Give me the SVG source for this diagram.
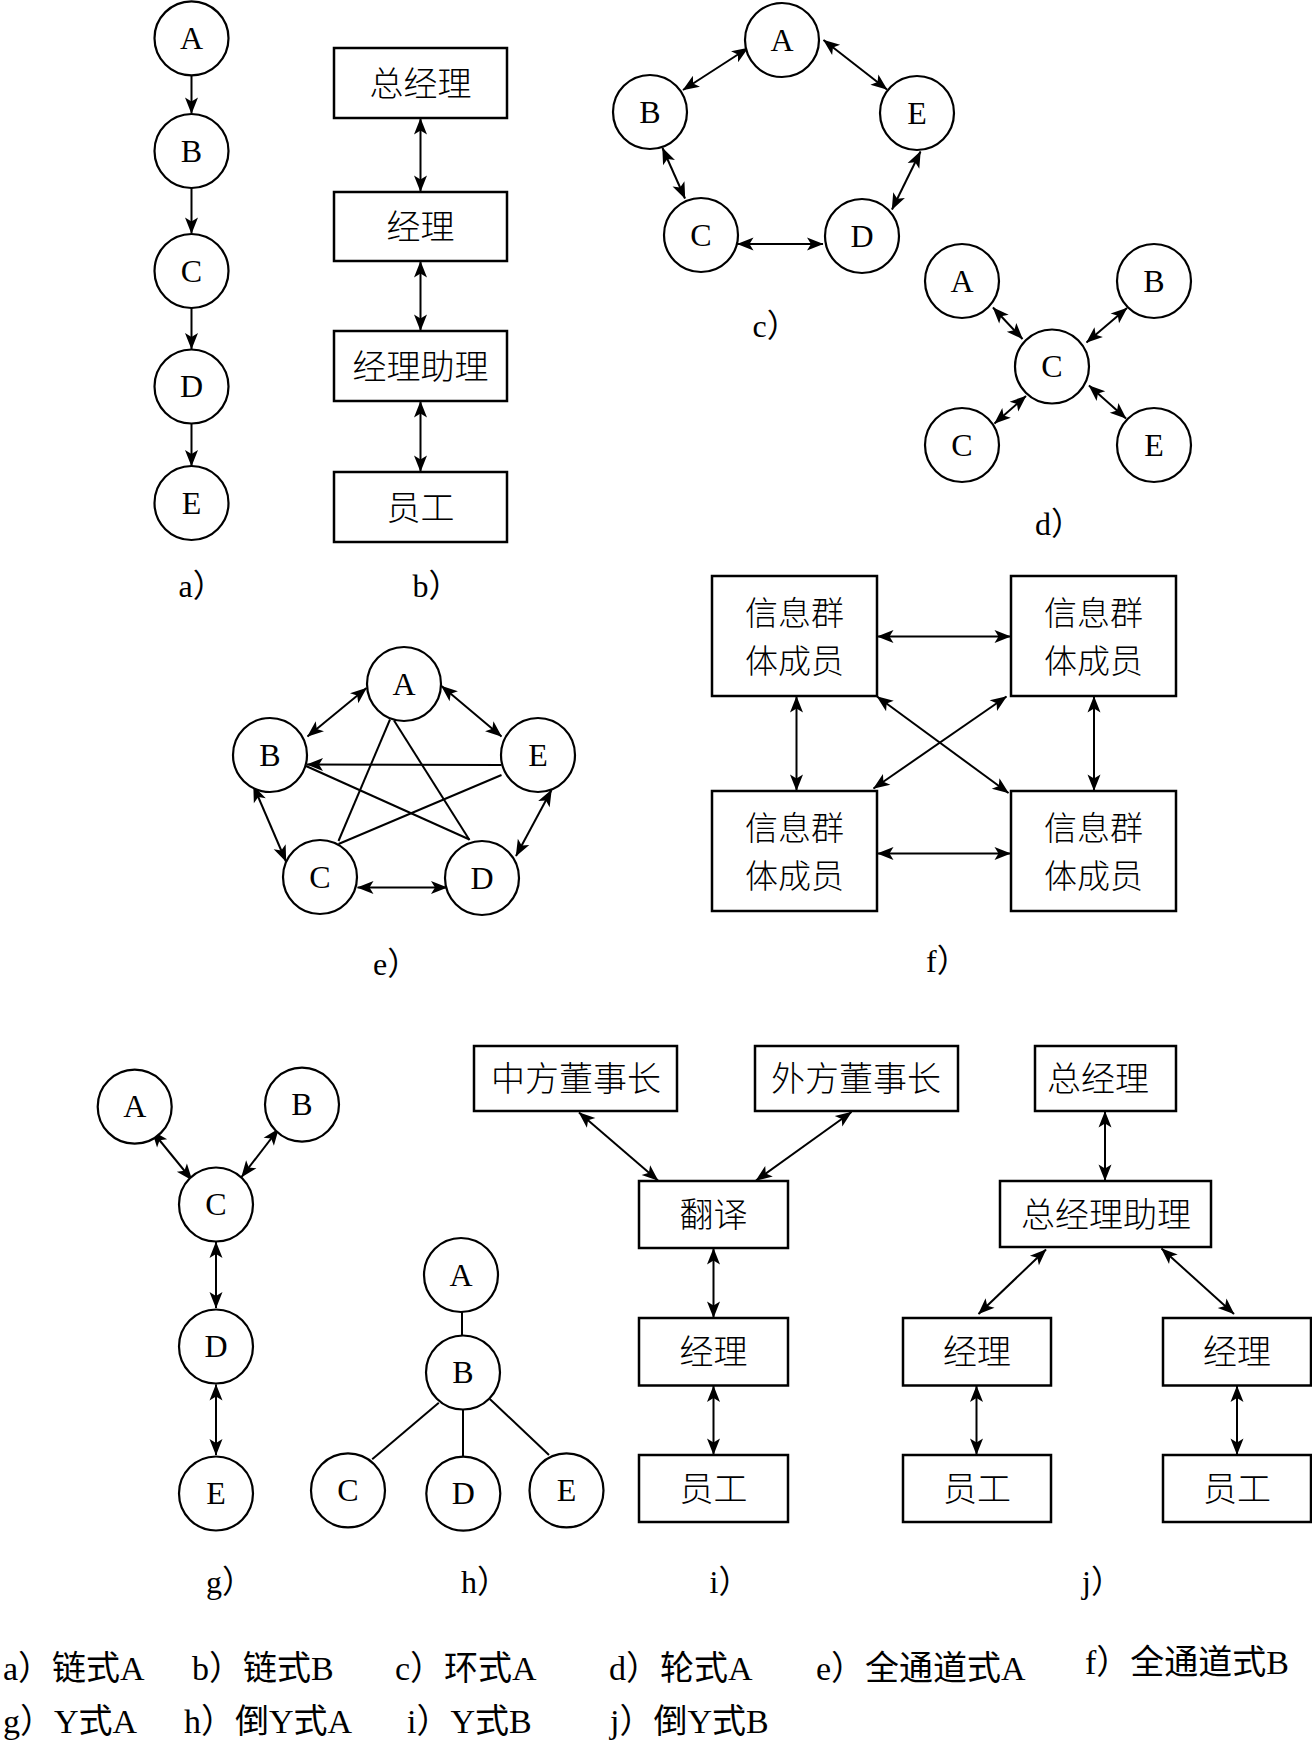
<svg xmlns="http://www.w3.org/2000/svg" width="1312" height="1742" viewBox="0 0 1312 1742">
<style>
.nd{fill:#fff;stroke:#000;stroke-width:2.2}
.bx{fill:#fff;stroke:#000;stroke-width:2.5}
.ln{fill:none;stroke:#000;stroke-width:2}
.ar{fill:none;stroke:#000;stroke-width:2;marker-end:url(#ah)}
.dr{fill:none;stroke:#000;stroke-width:2;marker-start:url(#ah);marker-end:url(#ah)}
.lt{font-family:"Liberation Serif","Times New Roman",serif;font-size:32px;text-anchor:middle;fill:#000}
.cn{font-family:"Noto Sans CJK SC","Noto Sans CJK TC",sans-serif;font-size:34px;font-weight:300;text-anchor:middle;fill:#000}
.cf{font-family:"Noto Sans CJK SC","Noto Sans CJK TC",sans-serif;font-size:33px;font-weight:300;text-anchor:middle;fill:#000}
.lb{font-family:"Liberation Serif","Noto Sans CJK SC",serif;font-size:32px;fill:#000}
.cap{font-family:"Liberation Serif","Noto Sans CJK SC",serif;font-size:34px;fill:#000}
</style>
<defs>
<marker id="ah" viewBox="-17 -7 18 14" refX="0" refY="0" markerWidth="18" markerHeight="14" markerUnits="userSpaceOnUse" orient="auto-start-reverse">
<path d="M0.5,0 L-16,-6.5 L-12,0 L-16,6.5 Z" fill="#000"/>
</marker>
</defs>
<rect width="1312" height="1742" fill="#fff"/>

<!-- connectors -->
<g id="connectors">
<!-- a -->
<line class="ar" x1="191.5" y1="75.5" x2="191.5" y2="113.5"/>
<line class="ar" x1="191.5" y1="188" x2="191.5" y2="233.5"/>
<line class="ar" x1="191.5" y1="308" x2="191.5" y2="349"/>
<line class="ar" x1="191.5" y1="423.5" x2="191.5" y2="466"/>
<!-- b -->
<line class="dr" x1="420.5" y1="118.5" x2="420.5" y2="191.5"/>
<line class="dr" x1="420.5" y1="261.5" x2="420.5" y2="330.5"/>
<line class="dr" x1="420.5" y1="401.5" x2="420.5" y2="471.5"/>
<!-- c -->
<line class="dr" x1="748" y1="48" x2="683" y2="90"/>
<line class="dr" x1="823.5" y1="40" x2="887" y2="89.5"/>
<line class="dr" x1="662.5" y1="148" x2="685" y2="198.5"/>
<line class="dr" x1="920.5" y1="151.5" x2="892" y2="209.5"/>
<line class="dr" x1="737.5" y1="244" x2="823" y2="244"/>
<!-- d -->
<line class="dr" x1="993" y1="307.5" x2="1022.5" y2="339"/>
<line class="dr" x1="1127" y1="308" x2="1086.5" y2="342.5"/>
<line class="dr" x1="994.5" y1="423.5" x2="1026" y2="396"/>
<line class="dr" x1="1126" y1="418.5" x2="1089" y2="385.5"/>
<!-- e -->
<line class="dr" x1="366.5" y1="688" x2="307.5" y2="736.5"/>
<line class="dr" x1="441.5" y1="686" x2="501.5" y2="736.5"/>
<line class="dr" x1="253.5" y1="786" x2="286" y2="861.5"/>
<line class="dr" x1="551.5" y1="790" x2="516" y2="856"/>
<line class="dr" x1="357.5" y1="887.5" x2="447" y2="887.5"/>
<line class="ar" x1="501.5" y1="765" x2="307" y2="764.5"/>
<line class="ln" x1="306" y1="766" x2="469.5" y2="839.5"/>
<line class="ln" x1="390" y1="719.5" x2="338.5" y2="841"/>
<line class="ln" x1="394" y1="720.5" x2="469.5" y2="840"/>
<line class="ln" x1="501.5" y1="775" x2="338.5" y2="844"/>
<!-- f -->
<line class="dr" x1="877.5" y1="636.5" x2="1010.5" y2="636.5"/>
<line class="dr" x1="877.5" y1="853.5" x2="1010.5" y2="853.5"/>
<line class="dr" x1="796.5" y1="696.5" x2="796.5" y2="790.5"/>
<line class="dr" x1="1094" y1="696.5" x2="1094" y2="790.5"/>
<line class="dr" x1="877" y1="696.5" x2="1008.5" y2="793"/>
<line class="dr" x1="1006.5" y1="696.5" x2="873.5" y2="788.5"/>
<!-- g -->
<line class="dr" x1="152" y1="1131" x2="192" y2="1180"/>
<line class="dr" x1="278.5" y1="1129" x2="241.5" y2="1177"/>
<line class="dr" x1="216" y1="1242" x2="216" y2="1308"/>
<line class="dr" x1="216" y1="1384.5" x2="216" y2="1455"/>
<!-- h -->
<line class="ln" x1="462" y1="1312" x2="462" y2="1335.5"/>
<line class="ln" x1="438.8" y1="1402.7" x2="372.2" y2="1459.3"/>
<line class="ln" x1="463" y1="1410" x2="463" y2="1456.5"/>
<line class="ln" x1="489.8" y1="1398.9" x2="549" y2="1455"/>
<!-- i -->
<line class="dr" x1="579" y1="1112.5" x2="658" y2="1180.5"/>
<line class="dr" x1="851.5" y1="1112" x2="756" y2="1180.5"/>
<line class="dr" x1="713.5" y1="1248.5" x2="713.5" y2="1317.5"/>
<line class="dr" x1="713.5" y1="1386" x2="713.5" y2="1454.5"/>
<!-- j -->
<line class="dr" x1="1105" y1="1111.5" x2="1105" y2="1180.5"/>
<line class="dr" x1="1046" y1="1249.5" x2="978.5" y2="1314"/>
<line class="dr" x1="1161.5" y1="1248.5" x2="1234" y2="1314"/>
<line class="dr" x1="976.5" y1="1386" x2="976.5" y2="1454.5"/>
<line class="dr" x1="1237" y1="1386" x2="1237" y2="1454.5"/>
</g>

<!-- panel a -->
<g id="a-A"><circle class="nd" cx="191.5" cy="38.3" r="37"/><text class="lt" x="191.5" y="49">A</text></g>
<g id="a-B"><circle class="nd" cx="191.5" cy="151" r="37"/><text class="lt" x="191.5" y="161.7">B</text></g>
<g id="a-C"><circle class="nd" cx="191.5" cy="271" r="37"/><text class="lt" x="191.5" y="281.7">C</text></g>
<g id="a-D"><circle class="nd" cx="191.5" cy="386.5" r="37"/><text class="lt" x="191.5" y="397.2">D</text></g>
<g id="a-E"><circle class="nd" cx="191.5" cy="503" r="37"/><text class="lt" x="191.5" y="513.7">E</text></g>

<!-- panel b -->
<g id="b-1"><rect class="bx" x="334" y="48" width="173" height="70"/><text class="cn" x="420.5" y="95.5">总经理</text></g>
<g id="b-2"><rect class="bx" x="334" y="192" width="173" height="69"/><text class="cn" x="420.5" y="239">经理</text></g>
<g id="b-3"><rect class="bx" x="334" y="331" width="173" height="70"/><text class="cn" x="420.5" y="378.5">经理助理</text></g>
<g id="b-4"><rect class="bx" x="334" y="472" width="173" height="70"/><text class="cn" x="420.5" y="519.5">员工</text></g>

<!-- panel c -->
<g id="c-A"><circle class="nd" cx="782" cy="40" r="37"/><text class="lt" x="782" y="50.7">A</text></g>
<g id="c-B"><circle class="nd" cx="650" cy="112" r="37"/><text class="lt" x="650" y="122.7">B</text></g>
<g id="c-E"><circle class="nd" cx="917" cy="113" r="37"/><text class="lt" x="917" y="123.7">E</text></g>
<g id="c-C"><circle class="nd" cx="701" cy="235" r="37"/><text class="lt" x="701" y="245.7">C</text></g>
<g id="c-D"><circle class="nd" cx="862" cy="236" r="37"/><text class="lt" x="862" y="246.7">D</text></g>

<!-- panel d -->
<g id="d-A"><circle class="nd" cx="962" cy="281" r="37"/><text class="lt" x="962" y="291.7">A</text></g>
<g id="d-B"><circle class="nd" cx="1154" cy="281" r="37"/><text class="lt" x="1154" y="291.7">B</text></g>
<g id="d-C"><circle class="nd" cx="1052" cy="366.5" r="37"/><text class="lt" x="1052" y="377.2">C</text></g>
<g id="d-C2"><circle class="nd" cx="962" cy="445" r="37"/><text class="lt" x="962" y="455.7">C</text></g>
<g id="d-E"><circle class="nd" cx="1154" cy="445" r="37"/><text class="lt" x="1154" y="455.7">E</text></g>

<!-- panel e -->
<g id="e-A"><circle class="nd" cx="404" cy="684" r="37"/><text class="lt" x="404" y="694.7">A</text></g>
<g id="e-B"><circle class="nd" cx="270" cy="755" r="37"/><text class="lt" x="270" y="765.7">B</text></g>
<g id="e-E"><circle class="nd" cx="538" cy="755" r="37"/><text class="lt" x="538" y="765.7">E</text></g>
<g id="e-C"><circle class="nd" cx="320" cy="877" r="37"/><text class="lt" x="320" y="887.7">C</text></g>
<g id="e-D"><circle class="nd" cx="482" cy="878" r="37"/><text class="lt" x="482" y="888.7">D</text></g>

<!-- panel f -->
<g id="f-TL"><rect class="bx" x="712" y="576" width="165" height="120"/><text class="cf"><tspan x="794.5" y="624.5">信息群</tspan><tspan x="794.5" y="672.5">体成员</tspan></text></g>
<g id="f-TR"><rect class="bx" x="1011" y="576" width="165" height="120"/><text class="cf"><tspan x="1093.5" y="624.5">信息群</tspan><tspan x="1093.5" y="672.5">体成员</tspan></text></g>
<g id="f-BL"><rect class="bx" x="712" y="791" width="165" height="120"/><text class="cf"><tspan x="794.5" y="839.5">信息群</tspan><tspan x="794.5" y="887.5">体成员</tspan></text></g>
<g id="f-BR"><rect class="bx" x="1011" y="791" width="165" height="120"/><text class="cf"><tspan x="1093.5" y="839.5">信息群</tspan><tspan x="1093.5" y="887.5">体成员</tspan></text></g>

<!-- panel g -->
<g id="g-A"><circle class="nd" cx="134.7" cy="1106.7" r="37"/><text class="lt" x="134.7" y="1117.4">A</text></g>
<g id="g-B"><circle class="nd" cx="302" cy="1104.6" r="37"/><text class="lt" x="302" y="1115.3">B</text></g>
<g id="g-C"><circle class="nd" cx="216" cy="1204.5" r="37"/><text class="lt" x="216" y="1215.2">C</text></g>
<g id="g-D"><circle class="nd" cx="216" cy="1346.5" r="37"/><text class="lt" x="216" y="1357.2">D</text></g>
<g id="g-E"><circle class="nd" cx="216" cy="1493.5" r="37"/><text class="lt" x="216" y="1504.2">E</text></g>

<!-- panel h -->
<g id="h-A"><circle class="nd" cx="461" cy="1275" r="37"/><text class="lt" x="461" y="1285.7">A</text></g>
<g id="h-B"><circle class="nd" cx="463" cy="1372.5" r="37"/><text class="lt" x="463" y="1383.2">B</text></g>
<g id="h-C"><circle class="nd" cx="348" cy="1490.4" r="37"/><text class="lt" x="348" y="1501.1">C</text></g>
<g id="h-D"><circle class="nd" cx="463.3" cy="1493.6" r="37"/><text class="lt" x="463.3" y="1504.3">D</text></g>
<g id="h-E"><circle class="nd" cx="566.5" cy="1490.4" r="37"/><text class="lt" x="566.5" y="1501.1">E</text></g>

<!-- panel i -->
<g id="i-zf"><rect class="bx" x="474" y="1046" width="203" height="65"/><text class="cn" x="576" y="1091">中方董事长</text></g>
<g id="i-wf"><rect class="bx" x="755" y="1046" width="203" height="65"/><text class="cn" x="856" y="1091">外方董事长</text></g>
<g id="i-fy"><rect class="bx" x="639" y="1181" width="149" height="67"/><text class="cn" x="713.5" y="1227">翻译</text></g>
<g id="i-jl"><rect class="bx" x="639" y="1318" width="149" height="67.5"/><text class="cn" x="713.5" y="1364">经理</text></g>
<g id="i-yg"><rect class="bx" x="639" y="1455" width="149" height="67"/><text class="cn" x="713.5" y="1501">员工</text></g>

<!-- panel j -->
<g id="j-zjl"><rect class="bx" x="1035" y="1046" width="141" height="65"/><text class="cn" x="1098" y="1091">总经理</text></g>
<g id="j-zl"><rect class="bx" x="1000" y="1181" width="211" height="66"/><text class="cn" x="1106" y="1227">总经理助理</text></g>
<g id="j-jl1"><rect class="bx" x="903" y="1318" width="148" height="67.5"/><text class="cn" x="977" y="1364">经理</text></g>
<g id="j-yg1"><rect class="bx" x="903" y="1455" width="148" height="67"/><text class="cn" x="977" y="1501">员工</text></g>
<g id="j-jl2"><rect class="bx" x="1163" y="1318" width="148" height="67.5"/><text class="cn" x="1237" y="1364">经理</text></g>
<g id="j-yg2"><rect class="bx" x="1163" y="1455" width="148" height="67"/><text class="cn" x="1237" y="1501">员工</text></g>

<!-- panel labels -->
<g id="labels">
<text class="lb" x="178.5" y="597">a）</text>
<text class="lb" x="412.5" y="597">b）</text>
<text class="lb" x="752.5" y="337">c）</text>
<text class="lb" x="1035" y="535">d）</text>
<text class="lb" x="373" y="975">e）</text>
<text class="lb" x="926" y="972">f）</text>
<text class="lb" x="206" y="1593">g）</text>
<text class="lb" x="461" y="1593">h）</text>
<text class="lb" x="709.5" y="1593">i）</text>
<text class="lb" x="1082" y="1593">j）</text>
</g>

<!-- captions -->
<g id="captions">
<text class="cap" x="3" y="1680">a）链式A</text>
<text class="cap" x="192" y="1680">b）链式B</text>
<text class="cap" x="395" y="1680">c）环式A</text>
<text class="cap" x="609" y="1680">d）轮式A</text>
<text class="cap" x="816" y="1680">e）全通道式A</text>
<text class="cap" x="1085" y="1674">f）全通道式B</text>
<text class="cap" x="3" y="1733">g）Y式A</text>
<text class="cap" x="184" y="1733">h）倒Y式A</text>
<text class="cap" x="407" y="1733">i）Y式B</text>
<text class="cap" x="610" y="1733">j）倒Y式B</text>
</g>
</svg>
